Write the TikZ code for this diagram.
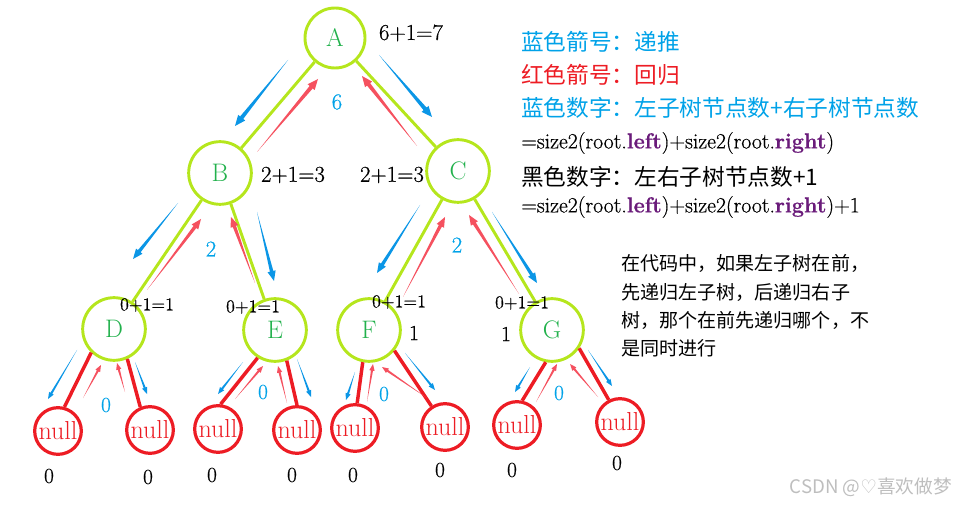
\documentclass[tikz,border=0pt]{standalone}
\usepackage{fontspec}
\newfontfamily\cjk{Noto Sans CJK SC}
\newfontfamily\dejavu{DejaVu Sans}
\newfontfamily\numf{Latin Modern Roman}[FakeBold=0.6]
\usetikzlibrary{calc}
\definecolor{lime}{HTML}{B5E61D}
\definecolor{tgreen}{HTML}{22B14C}
\definecolor{pred}{HTML}{ED1C24}
\definecolor{pblue}{HTML}{00A2E8}
\definecolor{ared}{HTML}{F5515F}
\definecolor{ablue}{HTML}{0B96E6}
\definecolor{purp}{HTML}{6A1B7A}
\definecolor{wm}{HTML}{BEBEBE}
\def\arrHL{7pt}\def\arrHW{3pt}\def\arrSW{1.3pt}
\newcommand\tarr[3]{%
  \path (#2) coordinate (tt) (#3) coordinate (th) ($(th)!\arrHL!(tt)$) coordinate (tb);
  \fill[#1] (tt) -- ($(tb)!\arrSW!90:(th)$) -- ($(tb)!\arrHW!90:(th)$) -- (th)
    -- ($(tb)!\arrHW!-90:(th)$) -- ($(tb)!\arrSW!-90:(th)$) -- cycle;}
\tikzset{
  tnode/.style={circle, draw=lime, line width=2.2pt, minimum size=47pt, inner sep=0pt,
    text=tgreen, font=\fontsize{19}{19}\selectfont},
  nnode/.style={circle, draw=pred, line width=2.4pt, minimum size=35pt, inner sep=0pt,
    text=pred, font=\fontsize{19.5}{19.5}\selectfont},
  tedge/.style={draw=lime, line width=2.2pt},
  nedge/.style={draw=pred, line width=2.6pt},
  sumlbl/.style={inner sep=0pt, font=\numf\fontsize{17}{17}\selectfont},
  smlbl/.style={inner sep=0pt, font=\numf\fontsize{13.5}{13.5}\selectfont},
  bnum/.style={inner sep=0pt, text=pblue, font=\numf\fontsize{17}{17}\selectfont},
  znum/.style={inner sep=0pt, font=\numf\fontsize{16}{16}\selectfont},
  legend/.style={inner sep=0pt, anchor=west, font=\cjk\fontsize{17}{17}\selectfont},
  formula/.style={inner sep=0pt, anchor=west, font=\numf\fontsize{16.3}{16.3}\selectfont},
  note/.style={inner sep=0pt, anchor=west, font=\cjk\fontsize{14.3}{14.3}\selectfont},
}
\begin{document}
\begin{tikzpicture}[x=0.75pt,y=-0.75pt]
\useasboundingbox (0,0) rectangle (955,505);
% tree nodes
\node[tnode, minimum size=45pt] (A) at (335,38) {A};
\node[tnode] (B) at (220,173) {B};
\node[tnode] (C) at (458,171) {C};
\node[tnode] (D) at (114,329) {D};
\node[tnode] (E) at (275,330) {E};
\node[tnode] (F) at (369,330) {F};
\node[tnode] (G) at (552,330) {G};
\node[nnode] (n1) at (58,431) {null};
\node[nnode] (n2) at (150,430) {null};
\node[nnode] (n3) at (218,429) {null};
\node[nnode] (n4) at (297,430) {null};
\node[nnode] (n5) at (355,428) {null};
\node[nnode] (n6) at (445,427) {null};
\node[nnode] (n7) at (517,425) {null};
\node[nnode] (n8) at (620,422) {null};
% edges
\draw[tedge] (A) -- (B);
\draw[tedge] (A) -- (C);
\draw[tedge] (B) -- (D);
\draw[tedge] (B) -- (E);
\draw[tedge] (C) -- (F);
\draw[tedge] (C) -- (G);
\draw[nedge] (D.226) -- (n1.75);
\draw[nedge] (D.294) -- (n2.113);
\draw[nedge] (E.238) -- (n3.84);
\draw[nedge] (E.291) -- (n4.90);
\draw[nedge] (F.259) -- (n5.85);
\draw[nedge] (F.321) -- (n6.123);
\draw[nedge] (G.259) -- (n7.78);
\draw[nedge] (G.326) -- (n8.117);
% level 1 arrows
\def\arrHL{8pt}\def\arrHW{3.4pt}\def\arrSW{1.5pt}
\tarr{ablue}{288,60}{235,126}
\tarr{ared}{257,152}{318,79}
\tarr{ared}{417,146}{362,76}
\tarr{ablue}{379,55}{432,117}
% level 2 arrows
\def\arrHL{7.5pt}\def\arrHW{3.1pt}\def\arrSW{1.3pt}
\tarr{ablue}{178,203}{133,259}
\tarr{ared}{147,290}{201,219}
\tarr{ared}{255,283}{231,217}
\tarr{ablue}{257,212}{274,281}
\tarr{ablue}{420,205}{377,273}
\tarr{ared}{403,297}{445,217}
\tarr{ared}{519,294}{469,215}
\tarr{ablue}{492,212}{537,283}
% level 3 arrows
\def\arrHL{5pt}\def\arrHW{2pt}\def\arrSW{0.8pt}
\tarr{ablue}{77,350}{48,399}
\tarr{ared}{83,398}{101,365}
\tarr{ared}{125,392}{117,363}
\tarr{ablue}{135,362}{147,394}
\tarr{ablue}{243,362}{218,394}
\tarr{ared}{235,399}{263,366}
\tarr{ared}{287,403}{278,366}
\tarr{ablue}{297,359}{311,397}
\tarr{ablue}{355,372}{346,400}
\tarr{ared}{367,402}{373,364}
\tarr{ared}{427,398}{382,367}
\tarr{ablue}{405,353}{435,390}
\tarr{ablue}{530,367}{515,392}
\tarr{ared}{536,402}{557,364}
\tarr{ared}{598,397}{570,364}
\tarr{ablue}{588,350}{612,386}
% numbers
\node[sumlbl] (sA) at (411,33) {6+1=7};
\node[bnum] (bA) at (337,102) {6};
\node[sumlbl] (sB) at (293,175) {2+1=3};
\node[sumlbl] (sC) at (392,175) {2+1=3};
\node[bnum] (bB) at (211,249) {2};
\node[bnum] (bC) at (457,245) {2};
\node[smlbl] (sD) at (147,305) {0+1=1};
\node[smlbl] (sE) at (253,307) {0+1=1};
\node[smlbl] (sF) at (399,302) {0+1=1};
\node[smlbl] (sG) at (522,303) {0+1=1};
\node[znum] (oF) at (414,333) {1};
\node[znum] (oG) at (506,334) {1};
\node[znum, text=pblue] (bD) at (106,405) {0};
\node[znum, text=pblue] (bE) at (263,392) {0};
\node[znum, text=pblue] (bF) at (384,394) {0};
\node[znum, text=pblue] (bG) at (559,393) {0};
\node[znum] (z1) at (49,476) {0};
\node[znum] (z2) at (148,477) {0};
\node[znum] (z3) at (212,475) {0};
\node[znum] (z4) at (292,475) {0};
\node[znum] (z5) at (353,475) {0};
\node[znum] (z6) at (440,470) {0};
\node[znum] (z7) at (512,470) {0};
\node[znum] (z8) at (617,463) {0};
% legend
\node[legend, text=pblue] (L1) at (521,42) {蓝色箭号：递推};
\node[legend, text=pred] (L2) at (521,75) {红色箭号：回归};
\node[legend, text=pblue] (L3) at (521,108) {蓝色数字：左子树节点数+右子树节点数};
\node[formula] (L4) at (521,143) {=size2(root.\textbf{\color{purp}left})+size2(root.\textbf{\color{purp}right})};
\node[legend] (L5) at (521,177) {黑色数字：左右子树节点数+1};
\node[formula] (L6) at (521,207) {=size2(root.\textbf{\color{purp}left})+size2(root.\textbf{\color{purp}right})+1};
% note
\node[note] (N1) at (621,263) {在代码中，如果左子树在前，};
\node[note] (N2) at (621,292) {先递归左子树，后递归右子};
\node[note] (N3) at (621,320) {树，那个在前先递归哪个，不};
\node[note] (N4) at (621,348) {是同时进行};
% watermark
\node[inner sep=0pt, anchor=east, text=wm, font=\cjk\fontsize{14}{14}\selectfont] (W) at (952,487) {CSDN @{\dejavu ♡}喜欢做梦};
\end{tikzpicture}
\end{document}
